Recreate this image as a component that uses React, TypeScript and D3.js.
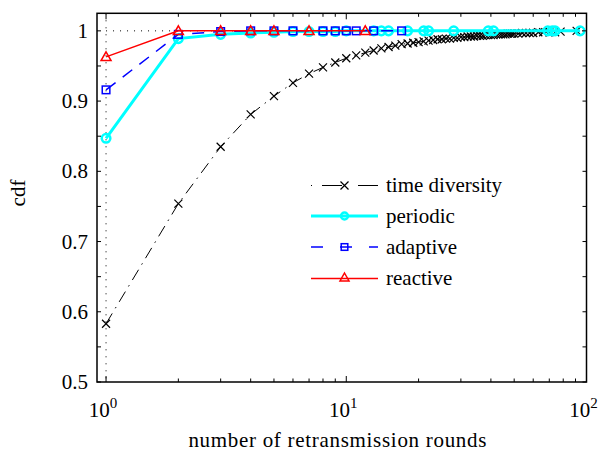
import React from "react";
import * as d3 from "d3";

const tdX = [1,2,3,4,5,6,7,8,9,10,11,12,13,14,15,16,17,18,19,20,21,22,23,24,25,26,27,28,29,30,31,32,33,34,35,36,37,38,39,40,41,42,43,44,45,46,47,48,49,50,52,54,56,58,60,63,66,70,74,78,91];
const tdY = [0.583,0.754,0.835,0.881,0.907,0.926,0.939,0.948,0.955,0.961,0.965,0.969,0.972,0.975,0.977,0.979,0.981,0.982,0.983,0.984,0.985,0.986,0.987,0.988,0.988,0.989,0.989,0.990,0.990,0.991,0.991,0.992,0.992,0.992,0.993,0.993,0.993,0.994,0.994,0.994,0.994,0.995,0.995,0.995,0.995,0.995,0.996,0.996,0.996,0.996,0.996,0.997,0.997,0.997,0.997,0.998,0.998,0.998,0.998,0.999,1.0];

const perX = [1,2,3,4,5,6,7,8,9,10,13,14,15,18,21,22,28,39,41,69,72,74,94];
const perY = [0.847,0.989,0.995,0.997,0.998,0.999,0.999,0.999,0.999,1,1,1,1,1,1,1,1,1,1,1,1,1,1];

const adaX = [1,2,3,4,5,6,8,9,10,11,13,17];
const adaY = [0.916,0.995,0.999,1,1,1,1,1,1,1,1,1];

const reaX = [1,2,3,4,5,7,12];
const reaY = [0.963,1,1,1,1,1,1];

const yTickLabels = ["0.5", "0.6", "0.7", "0.8", "0.9", "1"];
const xTickExps = ["0", "1", "2"];
const legendLabels = ["time diversity", "periodic", "adaptive", "reactive"];

const W = 602, H = 452;
const L = 97, R = 586.5, T = 13.3, B = 382;
const FONT = "Liberation Serif";

export default function App() {
  const x = d3.scaleLog().domain([0.917, 100]).range([L, R]);
  const y = d3.scaleLinear().domain([0.5, 1.025]).range([B, T]);
  const line = d3.line<[number, number]>().x(d => x(d[0])).y(d => y(d[1]));
  const pts = (xs: number[], ys: number[]) => xs.map((v, i) => [v, ys[i]] as [number, number]);

  const xMajor = [1, 10, 100];
  const xMinor: number[] = [];
  for (const dec of [1, 10]) for (let k = 2; k <= 9; k++) xMinor.push(dec * k);
  const yTicks = d3.range(0.5, 1.0001, 0.05);

  const cross = (cx: number, cy: number, s: number) => `M${cx - s},${cy - s}L${cx + s},${cy + s}M${cx - s},${cy + s}L${cx + s},${cy - s}`;
  const tri = (cx: number, cy: number, s: number) => `M${cx},${cy - s}L${cx + s},${cy + s * 0.75}L${cx - s},${cy + s * 0.75}Z`;

  const legY = [185.5, 216, 247, 278.5];
  const lx0 = 311, lx1 = 378, lxm = 344.5;
  const ts = { fontFamily: FONT } as React.CSSProperties;

  return (
    <svg width={W} height={H} style={{ position: "absolute", left: 0, top: 0, background: "#fff", fontFamily: FONT }}>
      <rect x={0} y={0} width={W} height={H} fill="#fff" />
      <defs>
        <clipPath id="plot"><rect x={L} y={T} width={R - L} height={B - T} /></clipPath>
      </defs>
      <line x1={x(1)} x2={x(1)} y1={T} y2={B} stroke="#000" strokeWidth={1} strokeDasharray="1,6" />
      <line x1={x(1)} x2={R} y1={y(1)} y2={y(1)} stroke="#000" strokeWidth={1} strokeDasharray="1,6" />

      <g clipPath="url(#plot)">
        <path d={line(pts(tdX, tdY)) || ""} fill="none" stroke="#000" strokeWidth={1} strokeDasharray="12,6,1.5,6" />
        {pts(tdX, tdY).map((p, i) => (
          <path key={"td" + i} d={cross(x(p[0]), y(p[1]), 4)} stroke="#000" strokeWidth={1.2} fill="none" />
        ))}
        <path d={line(pts(perX, perY)) || ""} fill="none" stroke="#00ffff" strokeWidth={3} />
        {pts(perX, perY).map((p, i) => (
          <circle key={"pe" + i} cx={x(p[0])} cy={y(p[1])} r={4.3} fill="none" stroke="#00ffff" strokeWidth={2.5} />
        ))}
        <path d={line(pts(adaX, adaY)) || ""} fill="none" stroke="#0000ff" strokeWidth={1.5} strokeDasharray="12,9" />
        {pts(adaX, adaY).map((p, i) => (
          <rect key={"ad" + i} x={x(p[0]) - 3.8} y={y(p[1]) - 3.8} width={7.6} height={7.6} fill="none" stroke="#0000ff" strokeWidth={1.5} />
        ))}
        <path d={line(pts(reaX, reaY)) || ""} fill="none" stroke="#ff0000" strokeWidth={1.5} />
        {pts(reaX, reaY).map((p, i) => (
          <path key={"re" + i} d={tri(x(p[0]), y(p[1]), 5)} fill="none" stroke="#ff0000" strokeWidth={1.5} />
        ))}
      </g>

      <rect x={L} y={T} width={R - L} height={B - T} fill="none" stroke="#000" strokeWidth={1.5} />
      {xMajor.map((v, i) => (
        <g key={"xm" + i}>
          <line x1={x(v)} x2={x(v)} y1={B} y2={B - 6} stroke="#000" />
          <line x1={x(v)} x2={x(v)} y1={T} y2={T + 6} stroke="#000" />
          <text x={x(v) - 3} y={417} fontSize={21} textAnchor="middle" style={ts}>10<tspan dy={-9} fontSize={15}>{xTickExps[i]}</tspan></text>
        </g>
      ))}
      {xMinor.map((v, i) => (
        <g key={"xn" + i}>
          <line x1={x(v)} x2={x(v)} y1={B} y2={B - 3.5} stroke="#000" />
          <line x1={x(v)} x2={x(v)} y1={T} y2={T + 3.5} stroke="#000" />
        </g>
      ))}
      {yTicks.map((v, i) => (
        <g key={"yt" + i}>
          <line x1={L} x2={L + 4} y1={y(v)} y2={y(v)} stroke="#000" />
          <line x1={R} x2={R - 4} y1={y(v)} y2={y(v)} stroke="#000" />
        </g>
      ))}
      {yTickLabels.map((s, i) => (
        <text key={"yl" + i} x={88} y={y(0.5 + i * 0.1) + 7} fontSize={21} textAnchor="end" style={ts}>{s}</text>
      ))}

      <text x={(L + R) / 2 - 4} y={447} fontSize={21} textAnchor="middle" letterSpacing={0.7} style={ts}>number of retransmission rounds</text>
      <text transform={`translate(25,193) rotate(-90)`} fontSize={21} textAnchor="middle" style={ts}>cdf</text>

      <g>
        <line x1={lx0} x2={lx1} y1={legY[0]} y2={legY[0]} stroke="#000" strokeWidth={1} strokeDasharray="1,10,20,16,20,10,1" />
        <path d={cross(lxm, legY[0], 4)} stroke="#000" strokeWidth={1.2} fill="none" />
        <line x1={lx0} x2={lx1} y1={legY[1]} y2={legY[1]} stroke="#00ffff" strokeWidth={3} />
        <circle cx={lxm} cy={legY[1]} r={3.5} fill="none" stroke="#00ffff" strokeWidth={2.5} />
        <line x1={lx0} x2={lx1} y1={legY[2]} y2={legY[2]} stroke="#0000ff" strokeWidth={1.5} strokeDasharray="12,17,12,17,12" />
        <rect x={lxm - 3.3} y={legY[2] - 3.3} width={6.6} height={6.6} fill="none" stroke="#0000ff" strokeWidth={1.5} />
        <line x1={lx0} x2={lx1} y1={legY[3]} y2={legY[3]} stroke="#ff0000" strokeWidth={1.5} />
        <path d={tri(lxm, legY[3] - 1, 4.5)} fill="none" stroke="#ff0000" strokeWidth={1.5} />
        {legendLabels.map((s, i) => (
          <text key={"lg" + i} x={386} y={legY[i] + 6.5} fontSize={21} style={ts}>{s}</text>
        ))}
      </g>
    </svg>
  );
}
